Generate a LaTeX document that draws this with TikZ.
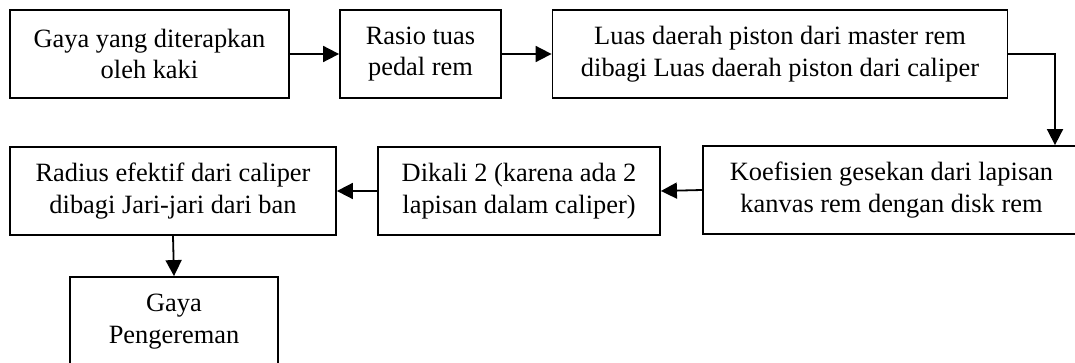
\documentclass[tikz,border=0pt]{standalone}
\usepackage{fontspec}
\setmainfont{Liberation Serif}
\usetikzlibrary{arrows.meta}
\begin{document}
\begin{tikzpicture}[x=1pt,y=-1pt,
  box/.style={draw, line width=1.8pt, align=center, inner sep=0pt,
    font=\fontsize{26.4}{31.5}\selectfont, minimum height=88pt},
  flow/.style={line width=1.8pt, -{Triangle[length=16pt,width=16pt]}}]
\useasboundingbox (0,0) rectangle (1075,363);
\clip (0,0) rectangle (1075,363);
% top row
\node[box, minimum width=279pt] (gaya) at (149.5,54) {Gaya yang diterapkan\\oleh kaki};
\node[box, minimum width=161pt] (rasio) at (420.5,54) {Rasio tuas\\pedal rem};
\node[box, minimum width=455pt] (luas) at (780,54) {Luas daerah piston dari master rem\\dibagi Luas daerah piston dari caliper};
% middle row
\node[box, minimum width=377pt] (koef) at (891.5,190) {Koefisien gesekan dari lapisan\\kanvas rem dengan disk rem};
\node[box, minimum width=282pt] (dikali) at (519,191) {Dikali 2 (karena ada 2\\lapisan dalam caliper)};
\node[box, minimum width=326pt] (radius) at (173,191) {Radius efektif dari caliper\\dibagi Jari-jari dari ban};
% result
\node[box, minimum width=208pt, minimum height=89pt] (hasil) at (174,321.5) {Gaya\\Pengereman};
% connectors
\draw[flow] (gaya.east) -- (rasio.west);
\draw[flow] (rasio.east) -- (luas.west);
\draw[flow] (luas.east) -| ([xshift=163.5pt]koef.north);
\draw[flow] (koef.west) -- (dikali.east);
\draw[flow] (dikali.west) -- (radius.east);
\draw[flow] (radius.south) -- (hasil.north);
\end{tikzpicture}
\end{document}
